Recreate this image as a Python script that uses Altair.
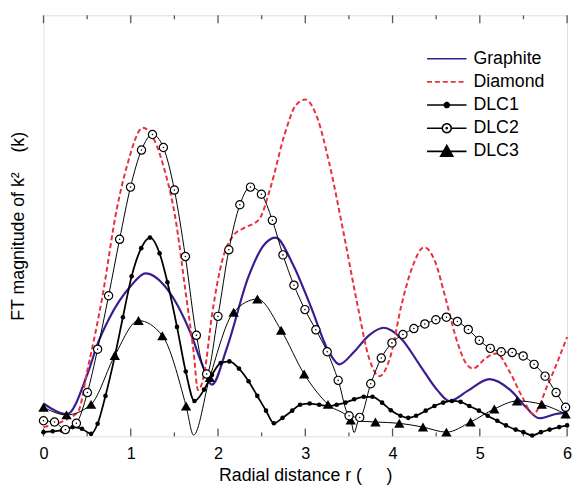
import altair as alt
import pandas as pd

series_names = ["Graphite", "Diamond", "DLC1", "DLC2", "DLC3"]
series_colors = ["#3b1b8f", "#e8303a", "#000000", "#000000", "#000000"]

graphite_x = [0, 0.27, 0.5, 0.63, 0.75, 1.0, 1.17, 1.42, 1.68, 1.82, 1.93, 2.1, 2.35, 2.51, 2.66, 2.85,
              3.06, 3.27, 3.39, 3.56, 3.73, 3.9, 4.1, 4.31, 4.52, 4.65, 4.86, 5.11, 5.36, 5.53, 5.68, 5.87, 6.0]
graphite_y = [7.8, 5.3, 14.6, 22.5, 27.9, 35.7, 38.7, 34.9, 24.8, 17.0, 12.3, 20.9, 38.0, 45.0, 47.2, 41.2,
              31.0, 20.1, 17.1, 20.1, 24.0, 25.8, 23.2, 17.0, 10.8, 8.4, 10.8, 13.6, 10.8, 6.9, 4.3, 5.3, 5.7]

diamond_x = [0, 0.27, 0.4, 0.5, 0.67, 0.84, 0.96, 1.14, 1.26, 1.38, 1.51, 1.63, 1.72, 1.77, 1.84, 1.93,
             2.05, 2.18, 2.3, 2.47, 2.6, 2.76, 2.89, 3.0, 3.14, 3.27, 3.44, 3.6, 3.73, 3.85, 3.98, 4.1,
             4.23, 4.36, 4.48, 4.61, 4.73, 4.84, 4.92, 5.07, 5.19, 5.34, 5.49, 5.61, 5.78, 6.0]
diamond_y = [2.2, 4.1, 6.0, 15.4, 32.6, 54.0, 64.5, 73.3, 70.8, 63.8, 52.0, 34.0, 20.1, 11.0, 14.6, 28.7,
             41.9, 47.8, 49.5, 51.5, 59.0, 71.5, 78.6, 80.0, 75.5, 65.3, 48.2, 31.0, 18.6, 14.3, 19.3, 31.0,
             40.4, 44.9, 41.9, 32.6, 23.2, 17.4, 16.1, 18.6, 19.7, 15.4, 9.2, 5.3, 12.3, 23.6]

dlc1_x = [0, 0.105, 0.21, 0.335, 0.44, 0.545, 0.62, 0.71, 0.82, 0.91, 1.01, 1.12, 1.22, 1.33, 1.42, 1.53,
          1.63, 1.73, 1.84, 1.93, 2.03, 2.13, 2.24, 2.35, 2.45, 2.55, 2.64, 2.74, 2.85, 2.94, 3.05, 3.16,
          3.27, 3.36, 3.46, 3.56, 3.67, 3.77, 3.88, 3.98, 4.09, 4.18, 4.27, 4.38, 4.48, 4.58, 4.68, 4.78,
          4.88, 4.99, 5.09, 5.2, 5.3, 5.41, 5.5, 5.6, 5.7, 5.8, 5.91, 6.0]
dlc1_y = [1.0, 1.2, 1.4, 2.2, 1.8, 0.6, 3.0, 9.6, 19.3, 28.3, 38.0, 44.7, 47.2, 43.5, 36.6, 26.0,
          15.4, 8.4, 11.1, 14.6, 17.4, 17.8, 16.1, 13.1, 9.6, 6.1, 3.1, 4.4, 6.1, 7.5, 7.8, 7.5,
          7.2, 7.5, 8.0, 8.8, 9.4, 9.4, 8.0, 6.2, 4.9, 4.4, 4.9, 6.1, 7.2, 8.0, 8.4, 8.2,
          7.2, 6.1, 4.9, 3.7, 2.6, 1.6, 1.0, 0.2, 1.0, 1.6, 2.2, 2.6]

dlc2_x = [0, 0.126, 0.251, 0.377, 0.503, 0.62, 0.746, 0.872, 0.997, 1.123, 1.249, 1.374, 1.5, 1.626,
          1.752, 1.869, 1.999, 2.124, 2.25, 2.372, 2.497, 2.623, 2.744, 2.87, 2.996, 3.121, 3.251, 3.377,
          3.502, 3.624, 3.75, 3.871, 3.993, 4.119, 4.244, 4.37, 4.496, 4.617, 4.743, 4.868, 4.994, 5.12,
          5.245, 5.371, 5.497, 5.622, 5.748, 5.874, 5.983]
dlc2_y = [3.7, 3.4, 1.6, 3.1, 10.4, 20.7, 33.4, 46.8, 59.2, 68.0, 71.7, 68.6, 58.5, 42.7,
          24.0, 14.8, 28.5, 44.3, 55.0, 59.2, 57.5, 51.3, 43.1, 35.9, 30.1, 25.3, 20.1, 13.3,
          4.9, 4.5, 12.5, 18.6, 22.2, 24.2, 25.6, 26.7, 27.7, 28.3, 27.3, 25.4, 22.8, 20.9,
          20.1, 19.9, 19.1, 17.1, 14.3, 10.4, 6.9]

dlc3_x = [0, 0.264, 0.545, 0.817, 1.089, 1.362, 1.634, 1.906, 2.179, 2.451, 2.723, 2.987, 3.26, 3.52,
          3.804, 4.077, 4.349, 4.617, 4.894, 5.166, 5.426, 5.711, 5.983]
dlc3_y = [6.9, 5.1, 7.6, 19.2, 27.5, 23.9, 7.2, 14.0, 29.5, 32.6, 25.2, 14.8, 7.6, 3.9,
          3.4, 3.1, 2.2, 1.0, 3.4, 6.5, 8.4, 7.6, 5.3]
dlc3_dip_x = [1.72, 3.56, 3.61]
dlc3_dip_y = [0.3, 0.9, 3.6]

major_ticks = [0, 1, 2, 3, 4, 5, 6]
minor_ticks = [0.5, 1.5, 2.5, 3.5, 4.5, 5.5]

x_title = "Radial distance r (\u00a0\u00a0\u00a0\u00a0\u00a0)"
y_title = "FT magnitude of k\u00b2\u00a0\u00a0\u00a0\u00a0(k)"

# legend symbol glyphs (line + marker), as SVG paths
legend_shapes = [
    "M-2,0H2",
    "M-2,0H2",
    "M-2,0H2M0.25,0A0.25,0.25,0,1,1,-0.25,0A0.25,0.25,0,1,1,0.25,0",
    "M-2,0H-0.45M0.45,0H2M0.45,0A0.45,0.45,0,1,1,-0.45,0A0.45,0.45,0,1,1,0.45,0"
    "M0.06,0A0.06,0.06,0,1,1,-0.06,0A0.06,0.06,0,1,1,0.06,0",
    "M-2,0H2M0,-0.6L0.62,0.5L-0.62,0.5Z",
]
legend_fills = ["transparent", "transparent", "black", "white", "black"]
legend_dashes = [[1, 0], [5, 3], [1, 0], [1, 0], [1, 0]]

W, H = 531, 427


def df(name, xs, ys):
    return pd.DataFrame({"r": xs, "v": ys, "series": name})


graphite = df("Graphite", graphite_x, graphite_y)
diamond = df("Diamond", diamond_x, diamond_y)
dlc1 = df("DLC1", dlc1_x, dlc1_y)
dlc2 = df("DLC2", dlc2_x, dlc2_y)
dlc3_pts = df("DLC3", dlc3_x, dlc3_y)
dlc3_line = pd.concat([dlc3_pts, df("DLC3", dlc3_dip_x, dlc3_dip_y)]).sort_values("r")

xs = alt.Scale(domain=[0, 6], nice=False)
ys = alt.Scale(domain=[0, 100], nice=False)
X = alt.X("r:Q", scale=xs,
          axis=alt.Axis(values=major_ticks, format="d", ticks=False, domain=False, grid=False,
                        labelPadding=9, labelFontSize=16.5, title=x_title,
                        titleFontSize=18, titlePadding=5, labelFlush=False))
Y = alt.Y("v:Q", scale=ys,
          axis=alt.Axis(labels=False, ticks=False, domain=False, grid=False,
                        title=y_title, titleFontSize=18, titlePadding=16))

legend = alt.Legend(
    title=None, orient="none", legendX=398, legendY=33, rowPadding=3.5,
    symbolSize=400, labelOffset=16, labelFontSize=18, labelFont="Liberation Sans",
    symbolStrokeWidth=1.6, symbolOpacity=1,
)

carrier = alt.Chart(alt.Data(values=[])).mark_point(opacity=1).encode(
    stroke=alt.Stroke("series:N", scale=alt.Scale(domain=series_names, range=series_colors), legend=legend),
    fill=alt.Fill("series:N", scale=alt.Scale(domain=series_names, range=legend_fills), legend=legend),
    shape=alt.Shape("series:N", scale=alt.Scale(domain=series_names, range=legend_shapes), legend=legend),
    strokeDash=alt.StrokeDash("series:N", scale=alt.Scale(domain=series_names, range=legend_dashes), legend=legend),
)

g_line = alt.Chart(graphite).mark_line(interpolate="monotone", strokeWidth=2.2, color=series_colors[0]).encode(x=X, y=Y)
d_line = alt.Chart(diamond).mark_line(interpolate="monotone", strokeWidth=2, strokeDash=[5, 3], color=series_colors[1]).encode(x=X, y=Y)
l1 = alt.Chart(dlc1).mark_line(interpolate="monotone", strokeWidth=1.8, color="black").encode(x=X, y=Y)
p1 = alt.Chart(dlc1).mark_point(filled=True, shape="circle", size=22, color="black", opacity=1).encode(x=X, y=Y)
l3 = alt.Chart(dlc3_line).mark_line(interpolate="monotone", strokeWidth=1, color="black").encode(x=X, y=Y)
p3 = alt.Chart(dlc3_pts).mark_point(filled=True, shape="triangle-up", size=110, color="black", opacity=1).encode(x=X, y=Y)
l2 = alt.Chart(dlc2).mark_line(interpolate="monotone", strokeWidth=1, color="black").encode(x=X, y=Y)
p2 = alt.Chart(dlc2).mark_point(shape="circle", size=70, fill="white", stroke="black", strokeWidth=1.2,
                                filled=False, opacity=1, fillOpacity=1).encode(x=X, y=Y)
p2d = alt.Chart(dlc2).mark_point(filled=True, shape="circle", size=2.5, color="black", opacity=1).encode(x=X, y=Y)

maj = pd.DataFrame({"r": major_ticks})
mnr = pd.DataFrame({"r": minor_ticks})
tick_style = dict(color="#555555", strokeWidth=1.3)
t1 = alt.Chart(maj).mark_rule(**tick_style).encode(x=alt.X("r:Q", scale=xs), y=alt.value(H), y2=alt.value(H - 8))
t2 = alt.Chart(maj).mark_rule(**tick_style).encode(x=alt.X("r:Q", scale=xs), y=alt.value(0), y2=alt.value(8))
t3 = alt.Chart(mnr).mark_rule(**tick_style).encode(x=alt.X("r:Q", scale=xs), y=alt.value(H), y2=alt.value(H - 4))
t4 = alt.Chart(mnr).mark_rule(**tick_style).encode(x=alt.X("r:Q", scale=xs), y=alt.value(0), y2=alt.value(4))

chart = alt.layer(t1, t2, t3, t4, g_line, d_line, l1, p1, l3, p3, l2, p2, p2d, carrier).properties(
    width=W, height=H,
    autosize=alt.AutoSizeParams(type="none"),
    padding={"left": 36, "top": 4, "right": 6, "bottom": 52},
).configure_view(stroke="#555555", strokeWidth=1.5).configure(
    font="Liberation Sans"
).configure_axis(labelColor="black", titleColor="black", titleFontWeight="normal", labelFont="Liberation Sans",
                 titleFont="Liberation Sans")

chart.save("out.html", embed_options={"renderer": "svg", "actions": False})
